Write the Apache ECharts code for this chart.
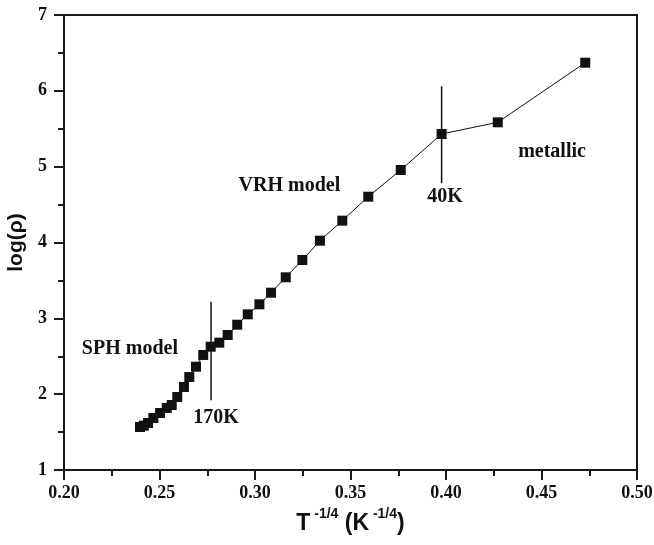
<!DOCTYPE html>
<html>
<head>
<meta charset="utf-8">
<script src="https://cdn.jsdelivr.net/npm/echarts@6/dist/echarts.min.js"></script>
<style>html,body{margin:0;padding:0;background:#fff}#c{width:654px;height:545px}</style>
</head>
<body>
<div id="c"></div>
<script>
// Data
var xVals = [0.2398, 0.2418, 0.2440, 0.2468, 0.2503, 0.2538, 0.2564, 0.2593, 0.2628, 0.2656, 0.2691, 0.2729, 0.2768, 0.2813, 0.2857, 0.2907, 0.2962, 0.3023, 0.3084, 0.3161, 0.3248, 0.3340, 0.3457, 0.3593, 0.3763, 0.3977, 0.4271, 0.4729];
var logRho = [1.567, 1.585, 1.620, 1.686, 1.752, 1.818, 1.857, 1.963, 2.095, 2.226, 2.362, 2.517, 2.626, 2.679, 2.780, 2.916, 3.053, 3.185, 3.338, 3.541, 3.769, 4.024, 4.288, 4.604, 4.956, 5.431, 5.585, 6.371];
// Transition markers (vertical lines): x position, y from, y to
var line170K = { x: 0.277, y: [1.92, 3.22] };
var line40K = { x: 0.3977, y: [4.78, 6.06] };
// Annotation texts with data-space positions (text centres)
var noteText = ["SPH model", "170K", "VRH model", "40K", "metallic"];
var noteX = [0.2345, 0.2796, 0.3180, 0.3995, 0.4555];
var noteY = [2.60, 1.686, 4.745, 4.60, 5.19];
var xTicks = [0.20, 0.25, 0.30, 0.35, 0.40, 0.45, 0.50];
var yTicks = [1, 2, 3, 4, 5, 6, 7];

var serif = "'Liberation Serif','Times New Roman',serif";
var sans = "'Liberation Sans',Arial,sans-serif";

var chart = echarts.init(document.getElementById('c'), null, {renderer: 'canvas'});
var pts = xVals.map(function (x, i) { return [x, logRho[i]]; });

chart.setOption({
  animation: false,
  backgroundColor: '#fff',
  grid: {left: 64, right: 17, top: 15, bottom: 75, containLabel: false, outerBoundsMode: 'none',
    show: true, borderColor: '#1a1a1a', borderWidth: 2, backgroundColor: 'transparent'},
  xAxis: {
    type: 'value', min: xTicks[0], max: xTicks[xTicks.length - 1], interval: 0.05,
    axisLine: {lineStyle: {color: '#1a1a1a', width: 2}},
    axisTick: {length: 10, lineStyle: {color: '#1a1a1a', width: 2}},
    minorTick: {show: true, splitNumber: 2, length: 6, lineStyle: {color: '#1a1a1a', width: 2}},
    splitLine: {show: false},
    axisLabel: {margin: 14, color: '#111', fontFamily: serif, fontWeight: 'bold', fontSize: 18,
      formatter: function (v) { return v.toFixed(2); }},
    name: '{b|T}{s| -1/4}{b| (K}{s| -1/4}{b|)}',
    nameLocation: 'middle', nameGap: 37,
    nameTextStyle: {
      rich: {
        b: {fontFamily: sans, fontWeight: 'bold', fontSize: 23, color: '#111', lineHeight: 28, verticalAlign: 'bottom'},
        s: {fontFamily: sans, fontWeight: 'bold', fontSize: 14, color: '#111', lineHeight: 28, verticalAlign: 'top'}
      }
    }
  },
  yAxis: {
    type: 'value', min: yTicks[0], max: yTicks[yTicks.length - 1], interval: 1,
    axisLine: {lineStyle: {color: '#1a1a1a', width: 2}},
    axisTick: {length: 10, lineStyle: {color: '#1a1a1a', width: 2}},
    minorTick: {show: true, splitNumber: 2, length: 6, lineStyle: {color: '#1a1a1a', width: 2}},
    splitLine: {show: false},
    axisLabel: {margin: 17, color: '#111', fontFamily: serif, fontWeight: 'bold', fontSize: 18},
    name: 'log(ρ)', nameLocation: 'middle', nameGap: 31, nameRotate: 90,
    nameTextStyle: {fontFamily: sans, fontWeight: 'bold', fontSize: 21, color: '#111'}
  },
  series: [
    {
      type: 'line', data: pts, symbol: 'rect', symbolSize: 10,
      itemStyle: {color: '#111'}, lineStyle: {color: '#111', width: 1}, z: 3
    },
    {
      type: 'line', data: [[line170K.x, line170K.y[0]], [line170K.x, line170K.y[1]]],
      symbol: 'none', lineStyle: {color: '#111', width: 1.5}, z: 4
    },
    {
      type: 'line', data: [[line40K.x, line40K.y[0]], [line40K.x, line40K.y[1]]],
      symbol: 'none', lineStyle: {color: '#111', width: 1.5}, z: 4
    }
  ]
});

var graphics = noteText.map(function (t, i) {
  var p = chart.convertToPixel({gridIndex: 0}, [noteX[i], noteY[i]]);
  return {
    type: 'text', x: p[0], y: p[1], z: 10,
    style: {text: t, fill: '#111', font: 'bold 20px ' + serif, align: 'center', verticalAlign: 'middle'}
  };
});
chart.setOption({graphic: graphics});
</script>
</body>
</html>
